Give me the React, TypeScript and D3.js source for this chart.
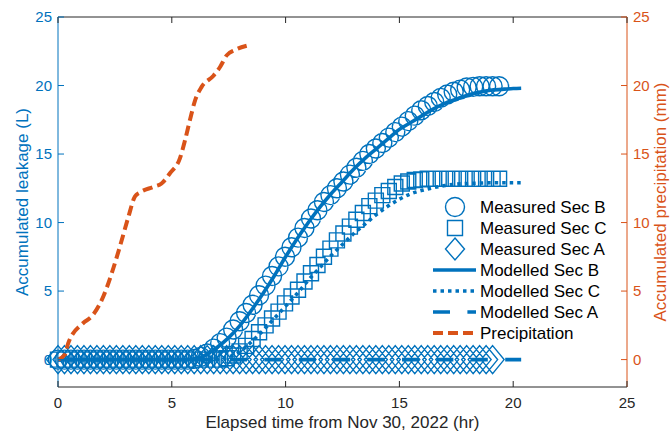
import React from "react";
import * as d3 from "d3";

// ---- data ----
const measuredTime = [
  0, 0.285, 0.57, 0.855, 1.14, 1.425, 1.71, 1.995, 2.28, 2.565, 2.85, 3.135, 3.42, 3.705, 3.99,
  4.275, 4.56, 4.845, 5.13, 5.415, 5.7, 5.985, 6.27, 6.555, 6.84, 7.125, 7.41, 7.695, 7.98,
  8.265, 8.55, 8.835, 9.12, 9.405, 9.69, 9.975, 10.26, 10.545, 10.83, 11.115, 11.4, 11.685,
  11.97, 12.255, 12.54, 12.825, 13.11, 13.395, 13.68, 13.965, 14.25, 14.535, 14.82, 15.105,
  15.39, 15.675, 15.96, 16.245, 16.53, 16.815, 17.1, 17.385, 17.67, 17.955, 18.24, 18.525,
  18.81, 19.095, 19.38,
];
const measuredB = [
  0, 0, 0, 0, 0, 0, 0, 0, 0, 0, 0, 0, 0, 0, 0, 0, 0, 0, 0, 0, 0,
  0.05, 0.2, 0.45, 0.8, 1.2, 1.6, 2.2, 2.8, 3.4, 4.0, 4.7, 5.4, 6.1, 6.8, 7.5, 8.2, 8.9, 9.6,
  10.3, 10.9, 11.5, 12.0, 12.5, 13.0, 13.5, 14.0, 14.5, 15.0, 15.4, 15.8, 16.2, 16.6, 17.0,
  17.4, 17.8, 18.2, 18.5, 18.8, 19.1, 19.35, 19.55, 19.7, 19.85, 19.9, 19.95, 19.95, 19.95, 19.95,
];
const measuredC = [
  0, 0, 0, 0, 0, 0, 0, 0, 0, 0, 0, 0, 0, 0, 0, 0, 0, 0, 0, 0, 0, 0, 0, 0, 0, 0,
  0.1, 0.3, 0.6, 1.0, 1.5, 2.0, 2.5, 3.0, 3.5, 4.1, 4.6, 5.1, 5.7, 6.3, 6.9, 7.5, 8.1, 8.7,
  9.2, 9.7, 10.2, 10.7, 11.2, 11.6, 12.0, 12.3, 12.6, 12.85, 13.0, 13.1, 13.15,
  13.2, 13.2, 13.2, 13.2, 13.2, 13.2, 13.2, 13.2, 13.2, 13.2, 13.2, 13.2,
];
const measuredA = [
  0, 0, 0, 0, 0, 0, 0, 0, 0, 0, 0, 0, 0, 0, 0, 0, 0, 0, 0, 0, 0, 0, 0, 0, 0, 0, 0, 0, 0, 0,
  0, 0, 0, 0, 0, 0, 0, 0, 0, 0, 0, 0, 0, 0, 0, 0, 0, 0, 0, 0, 0, 0, 0, 0, 0, 0, 0, 0, 0, 0,
  0, 0, 0, 0, 0, 0, 0, 0,
];

const modelTime = [
  0, 5.5, 6.0, 6.5, 7.0, 7.5, 8.0, 8.5, 9.0, 9.5, 10.0, 10.5, 11.0, 11.5, 12.0, 12.5, 13.0,
  13.5, 14.0, 14.5, 15.0, 15.5, 16.0, 16.5, 17.0, 17.5, 18.0, 18.5, 19.0, 19.5, 20.0, 20.35,
];
const modelB = [
  0, 0, 0.05, 0.35, 0.9, 1.6, 2.5, 3.6, 4.8, 6.1, 7.5, 8.8, 10.0, 11.1, 12.1, 13.0, 13.9,
  14.7, 15.4, 16.1, 16.8, 17.3, 17.8, 18.3, 18.7, 19.0, 19.3, 19.5, 19.65, 19.72, 19.78, 19.8,
];
const modelC = [
  0, 0, 0, 0, 0, 0.2, 0.6, 1.3, 2.1, 3.0, 3.9, 4.8, 5.8, 6.7, 7.6, 8.4, 9.2, 9.9, 10.6,
  11.2, 11.7, 12.1, 12.35, 12.55, 12.7, 12.8, 12.85, 12.88, 12.9, 12.9, 12.9, 12.9,
];
const modelATime = [0, 20.35];
const modelA = [0, 0];

const precipTime = [
  0, 0.3, 0.45, 1.11, 1.48, 1.99, 2.36, 2.72, 3.09, 3.38, 3.6, 4.19, 4.55, 4.92, 5.36, 5.58,
  5.8, 6.02, 6.31, 6.82, 7.12, 7.41, 7.78, 8.29,
];
const precip = [
  0, 0.36, 1.2, 2.67, 3.15, 4.6, 6.3, 8.25, 10.4, 11.9, 12.2, 12.6, 12.85, 13.6, 14.7, 16.0,
  17.5, 18.9, 19.9, 20.7, 21.35, 22.2, 22.6, 22.9,
];

const xTicks = [0, 5, 10, 15, 20, 25];
const yTicks = [0, 5, 10, 15, 20, 25];
const legendLabels = [
  "Measured Sec B",
  "Measured Sec C",
  "Measured Sec A",
  "Modelled Sec B",
  "Modelled Sec C",
  "Modelled Sec A",
  "Precipitation",
];

// ---- styling ----
const BLUE = "#0072BD";
const ORANGE = "#D95319";
const DARK = "#262626";
const FONT = "'Liberation Sans', Arial, Helvetica, sans-serif";
const W = 671;
const H = 431;
const L = 58, R = 627, T = 17, B = 387;

const x = d3.scaleLinear().domain([0, 25]).range([L, R]);
const yL = d3.scaleLinear().domain([-2, 25]).range([B, T]);
const yR = d3.scaleLinear().domain([-2, 25]).range([B, T]);

const CR = 9.5; // circle radius
const SQ = 7.5; // square half side
const DW = 11.5, DH = 14; // diamond half sizes

const circlePath = (cx: number, cy: number, r: number) =>
  `M${cx - r},${cy}a${r},${r} 0 1,0 ${2 * r},0a${r},${r} 0 1,0 ${-2 * r},0Z`;
const squarePath = (cx: number, cy: number, h: number) =>
  `M${cx - h},${cy - h}h${2 * h}v${2 * h}h${-2 * h}Z`;
const diamondPath = (cx: number, cy: number, w: number, h: number) =>
  `M${cx},${cy - h}L${cx + w},${cy}L${cx},${cy + h}L${cx - w},${cy}Z`;

function lineFor(ts: number[], vs: number[], ys: d3.ScaleLinear<number, number>) {
  const pts = ts.map((t, i) => [t, vs[i]] as [number, number]);
  return (
    d3
      .line<[number, number]>()
      .x((d) => x(d[0]))
      .y((d) => ys(d[1]))
      .curve(d3.curveMonotoneX)(pts) || ""
  );
}

export default function App() {
  const circles = measuredB.map((v, i) => circlePath(x(measuredTime[i]), yL(v), CR)).join("");
  const squares = measuredC.map((v, i) => squarePath(x(measuredTime[i]), yL(v), SQ)).join("");
  const diamonds = measuredA
    .map((v, i) => diamondPath(x(measuredTime[i]), yL(v), DW, DH))
    .join("");

  const legY0 = 207;
  const legDy = 21;
  const lx0 = 433, lx1 = 476, lmx = 455, ltx = 480;

  return (
    <svg
      width={W}
      height={H}
      viewBox={`0 0 ${W} ${H}`}
      style={{ position: "absolute", left: 0, top: 0, display: "block", background: "#fff" }}
      fontFamily={FONT}
    >
      <rect x={0} y={0} width={W} height={H} fill="#fff" />
      <defs>
        <clipPath id="plotclip">
          <rect x={L - 14} y={T} width={R - L + 14} height={B - T} />
        </clipPath>
      </defs>

      <g clipPath="url(#plotclip)">
        {/* measured markers */}
        <path d={circles} fill="none" stroke={BLUE} strokeWidth={1.4} />
        <path d={squares} fill="none" stroke={BLUE} strokeWidth={1.4} />
        <path d={diamonds} fill="none" stroke={BLUE} strokeWidth={1.4} />
        {/* modelled lines */}
        <path d={lineFor(modelTime, modelB, yL)} fill="none" stroke={BLUE} strokeWidth={3.6} />
        <path
          d={lineFor(modelTime, modelC, yL)}
          fill="none"
          stroke={BLUE}
          strokeWidth={3.6}
          strokeDasharray="3.5,4"
        />
        <path
          d={lineFor(modelATime, modelA, yL)}
          fill="none"
          stroke={BLUE}
          strokeWidth={3.6}
          strokeDasharray="17,17.4"
        />
        {/* precipitation on right axis */}
        <path
          d={lineFor(precipTime, precip, yR)}
          fill="none"
          stroke={ORANGE}
          strokeWidth={4}
          strokeDasharray="10,5"
        />
      </g>

      {/* axes frame */}
      <line x1={L} x2={R} y1={T} y2={T} stroke={DARK} strokeWidth={1} />
      <line x1={L} x2={R} y1={B} y2={B} stroke={DARK} strokeWidth={1} />
      <line x1={L} x2={L} y1={T} y2={B} stroke={BLUE} strokeWidth={1} />
      <line x1={R} x2={R} y1={T} y2={B} stroke={ORANGE} strokeWidth={1} />

      {/* x ticks */}
      {xTicks.map((t) => (
        <g key={"x" + t}>
          <line x1={x(t)} x2={x(t)} y1={B} y2={B - 6} stroke={DARK} />
          <line x1={x(t)} x2={x(t)} y1={T} y2={T + 6} stroke={DARK} />
          <text x={x(t)} y={408} textAnchor="middle" fontSize={15} fill={DARK}>
            {t}
          </text>
        </g>
      ))}
      {/* left ticks */}
      {yTicks.map((t) => (
        <g key={"yl" + t}>
          <line x1={L} x2={L + 6} y1={yL(t)} y2={yL(t)} stroke={BLUE} />
          <text x={52} y={yL(t) + 5} textAnchor="end" fontSize={15} fill={BLUE}>
            {t}
          </text>
        </g>
      ))}
      {/* right ticks */}
      {yTicks.map((t) => (
        <g key={"yr" + t}>
          <line x1={R - 6} x2={R} y1={yR(t)} y2={yR(t)} stroke={ORANGE} />
          <text x={633} y={yR(t) + 5} textAnchor="start" fontSize={15} fill={ORANGE}>
            {t}
          </text>
        </g>
      ))}

      {/* axis labels */}
      <text x={(L + R) / 2} y={428} textAnchor="middle" fontSize={17} fill={DARK}>
        Elapsed time from Nov 30, 2022 (hr)
      </text>
      <text
        transform={`translate(28,${(T + B) / 2}) rotate(-90)`}
        textAnchor="middle"
        fontSize={17}
        fill={BLUE}
      >
        Accumulated leakage (L)
      </text>
      <text
        transform={`translate(666,${(T + B) / 2}) rotate(-90)`}
        textAnchor="middle"
        fontSize={17}
        fill={ORANGE}
      >
        Accumulated precipitation (mm)
      </text>

      {/* legend */}
      <g>
        <path d={circlePath(lmx, legY0, CR)} fill="none" stroke={BLUE} strokeWidth={1.4} />
        <path d={squarePath(lmx, legY0 + legDy, SQ)} fill="none" stroke={BLUE} strokeWidth={1.4} />
        <path
          d={diamondPath(lmx, legY0 + 2 * legDy, 9.5, 11)}
          fill="none"
          stroke={BLUE}
          strokeWidth={1.4}
        />
        <line x1={lx0} x2={lx1} y1={legY0 + 3 * legDy} y2={legY0 + 3 * legDy} stroke={BLUE} strokeWidth={3.6} />
        <line
          x1={lx0}
          x2={lx1}
          y1={legY0 + 4 * legDy}
          y2={legY0 + 4 * legDy}
          stroke={BLUE}
          strokeWidth={3.6}
          strokeDasharray="3.5,4"
        />
        <line
          x1={lx0}
          x2={lx1}
          y1={legY0 + 5 * legDy}
          y2={legY0 + 5 * legDy}
          stroke={BLUE}
          strokeWidth={3.6}
          strokeDasharray="17,17.4"
        />
        <line
          x1={lx0}
          x2={lx1}
          y1={legY0 + 6 * legDy}
          y2={legY0 + 6 * legDy}
          stroke={ORANGE}
          strokeWidth={4}
          strokeDasharray="10,5"
        />
        {legendLabels.map((lab, i) => (
          <text key={lab} x={ltx} y={legY0 + i * legDy + 6} fontSize={17} fill="#000">
            {lab}
          </text>
        ))}
      </g>
    </svg>
  );
}
